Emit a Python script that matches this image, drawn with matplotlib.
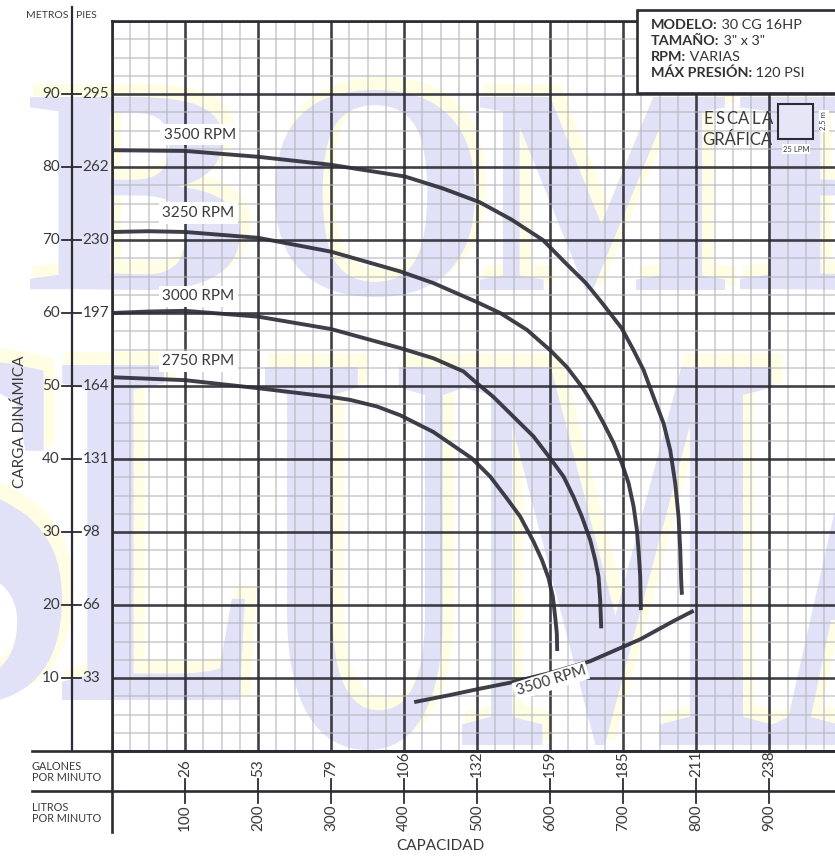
import matplotlib
matplotlib.use('Agg')
import matplotlib.pyplot as plt
import numpy as np
from matplotlib.textpath import TextPath
from matplotlib.font_manager import FontProperties
from matplotlib.patches import PathPatch, Rectangle
from matplotlib.transforms import Affine2D, blended_transform_factory

plt.rcParams['font.family'] = ['Lato', 'DejaVu Sans']

# ---------------- data ----------------
lpm_ticks = [100, 200, 300, 400, 500, 600, 700, 800, 900]
gpm_labels = ['26', '53', '79', '106', '132', '159', '185', '211', '238']
m_ticks = [10, 20, 30, 40, 50, 60, 70, 80, 90]
ft_labels = ['33', '66', '98', '131', '164', '197', '230', '262', '295']

rpm_names = ['3500 RPM', '3250 RPM', '3000 RPM', '2750 RPM']
q_3500 = [0, 100, 200, 300, 401, 452, 503, 547, 590, 621.5, 648.9, 671.7, 698,
          714.2, 727.8, 741.5, 755.2, 764.4, 771.2, 775.8, 778.1, 779.5, 780.4]
h_3500 = [82.3, 82.2, 81.4, 80.3, 78.7, 77.1, 75.2, 72.8, 70.0, 66.8, 64.1,
          61.3, 57.9, 54.9, 52.2, 48.5, 44.9, 41.2, 36.7, 32.1, 27.5, 23.0, 21.4]
q_3250 = [0, 50, 100, 200, 300, 394.5, 440.1, 499.5, 531.5, 568.1, 600, 622.8,
          643.4, 659.4, 673.1, 686.8, 698.2, 707.3, 714.2, 718.7, 721.0, 723.3,
          724.2]
h_3250 = [71.1, 71.2, 71.1, 70.3, 68.4, 65.7, 64.1, 61.5, 60.0, 57.7, 54.9,
          52.6, 49.9, 47.4, 44.9, 42.2, 39.4, 36.7, 33.5, 30.3, 27.5, 23.9, 19.3]
q_3000 = [0, 50, 100, 200, 300, 394.5, 440.1, 481.2, 499.5, 522.3, 549.7,
          577.1, 600, 618.3, 632.0, 643.4, 654.8, 661.6, 666.2, 668.5, 669.9]
h_3000 = [60.0, 60.2, 60.3, 59.5, 57.8, 55.2, 53.8, 52.0, 50.4, 48.5, 45.8,
          43.1, 40.1, 37.6, 34.8, 32.1, 28.9, 26.2, 23.9, 20.7, 16.8]
q_2750 = [0, 100, 200, 300, 326, 362.6, 394.5, 440.1, 492.7, 517.8, 540.7,
          559.0, 577.1, 588.6, 597.7, 603.7, 606.8, 609.1, 609.6]
h_2750 = [51.2, 50.8, 49.7, 48.5, 48.1, 47.2, 46.0, 43.7, 40.1, 37.6, 34.6,
          32.1, 28.7, 26.2, 23.7, 21.1, 18.4, 16.1, 13.7]
curves_q = [q_3500, q_3250, q_3000, q_2750]
curves_h = [h_3500, h_3250, h_3000, h_2750]
label_q = [120, 118, 118, 118]
label_h = [84.4, 73.7, 62.3, 53.4]

low_name = '3500 RPM'
q_low = [416.4, 463, 499.6, 545.2, 600, 654.8, 698.2, 723.3, 741.5, 768.9, 794.1]
h_low = [6.75, 7.67, 8.45, 9.36, 10.7, 12.3, 14.2, 15.3, 16.3, 17.8, 19.1]

info_bold = ['MODELO:', 'TAMAÑO:', 'RPM:', 'MÁX PRESIÓN:']
info_reg = [' 30 CG 16HP', ' 3" x 3"', ' VARIAS', ' 120 PSI']

# ---------------- figure ----------------
W, H = 835, 856
fig = plt.figure(figsize=(W / 100, H / 100), dpi=100)
fig.patch.set_facecolor('white')

DARK = '#2b2b33'
TXT = '#3a3a3a'

# background watermark axes
bg = fig.add_axes([0, 0, 1, 1], zorder=0)
bg.set_xlim(0, W); bg.set_ylim(H, 0); bg.axis('off')

fp = FontProperties(family='Liberation Serif', weight='bold')
LAV = '#e1e2f7'
YEL = '#fffee4'


def letter(ch, x0, x1, ytop, ybot):
    tp = TextPath((0, 0), ch, size=100, prop=fp)
    bb = tp.get_extents()
    sx = (x1 - x0) / bb.width
    sy = (ybot - ytop) / bb.height
    for col, dx, dy, lw, z in [(YEL, 7, -9, 6, 1), (LAV, 0, 0, 0, 2)]:
        tr = (Affine2D().translate(-bb.x0, -bb.y0).scale(sx, -sy)
              .translate(x0 + dx, ybot + dy))
        p = tr.transform_path(tp)
        bg.add_patch(PathPatch(p, fc=col, ec=col if lw else 'none', lw=lw,
                               zorder=z))


for ch, box in [('B', (30, 240, 97, 290)), ('O', (275, 475, 90, 297)),
                ('M', (480, 725, 97, 290)), ('B', (740, 950, 97, 290)),
                ('S', (-130, 62, 360, 705)), ('L', (62, 245, 365, 700)),
                ('U', (265, 465, 367, 750)), ('M', (462, 772, 367, 745)),
                ('A', (772, 1010, 367, 745))]:
    letter(ch, *box)

# main chart axes
ax = fig.add_axes([112 / W, (H - 751) / H, (W - 112) / W, 730 / H], zorder=2)
ax.patch.set_alpha(0)
ax.set_xlim(0, 990)
ax.set_ylim(0, 100)
ax.set_xticks(np.arange(0, 991, 100))
ax.set_xticks(np.arange(0, 991, 25), minor=True)
ax.set_yticks(np.arange(0, 101, 10))
ax.set_yticks(np.arange(0, 101, 2.5), minor=True)
ax.set_axisbelow(True)
ax.grid(which='minor', color='#b4b4bc', lw=1.1, alpha=0.7)
ax.grid(which='major', color=DARK, lw=1.9, alpha=0.9)
ax.tick_params(which='both', length=0, labelbottom=False, labelleft=False)
for k, s in ax.spines.items():
    s.set_color(DARK); s.set_linewidth(1.9)
ax.spines['right'].set_visible(False)

for q, h in zip(curves_q, curves_h):
    ax.plot(q, h, color='#2e2e3a', lw=2.8, alpha=0.92, solid_capstyle='butt',
            solid_joinstyle='round', zorder=3)
for name, q, h in zip(rpm_names, label_q, label_h):
    ax.text(q, h, name, ha='center', va='center', fontsize=11, color=TXT,
            zorder=4, bbox=dict(fc='white', ec='none', pad=2.5))
ax.plot(q_low, h_low, color='#2e2e3a', lw=2.8, alpha=0.92,
        solid_joinstyle='round', zorder=3)
ax.text(601, 9.6, low_name, ha='center', va='center', fontsize=11, color=TXT,
        rotation=17, zorder=4, bbox=dict(fc='white', ec='none', pad=1.5))

# overlay axes in pixel coordinates
ov = fig.add_axes([0, 0, 1, 1], zorder=3)
ov.set_xlim(0, W); ov.set_ylim(H, 0); ov.axis('off')
ov.patch.set_alpha(0)

tr_y = blended_transform_factory(ov.transData, ax.transData)
tr_x = blended_transform_factory(ax.transData, ov.transData)

# left axis
ov.plot([72, 72], [7, 751], color=DARK, lw=1.6)
ov.text(68, 15, 'METROS', ha='right', va='center', fontsize=7.5, color=TXT)
ov.text(76, 15, 'PIES', ha='left', va='center', fontsize=7.5, color=TXT)
for m, f in zip(m_ticks, ft_labels):
    ov.plot([62, 81], [m, m], color=DARK, lw=1.3, transform=tr_y)
    ov.text(60, m, str(m), ha='right', va='center', fontsize=11, color=TXT,
            transform=tr_y)
    ov.text(82.5, m, f, ha='left', va='center', fontsize=11, color=TXT,
            transform=tr_y)
ov.text(20, 422, 'CARGA DINÁMICA', rotation=90, ha='center', va='center',
        fontsize=11, color=TXT)

# bottom axis area
ov.plot([32, W], [751, 751], color=DARK, lw=1.9)
ov.plot([32, W], [791, 791], color=DARK, lw=1.9)
ov.plot([112, 112], [751, 832], color=DARK, lw=1.9)
ov.text(32, 772, 'GALONES\nPOR MINUTO', ha='left', va='center', fontsize=7.8,
        color=TXT, linespacing=1.0)
ov.text(32, 813, 'LITROS\nPOR MINUTO', ha='left', va='center', fontsize=7.8,
        color=TXT, linespacing=1.0)
for q, g in zip(lpm_ticks, gpm_labels):
    ov.plot([q, q], [779, 791], color=DARK, lw=1.3, transform=tr_x)
    ov.plot([q, q], [791, 803], color=DARK, lw=1.3, transform=tr_x)
    ov.text(q, 777, g, rotation=90, ha='center', va='bottom', fontsize=11,
            color=TXT, transform=tr_x)
    ov.text(q, 804, str(q), rotation=90, ha='center', va='top', fontsize=11,
            color=TXT, transform=tr_x)
ov.text(440, 846, 'CAPACIDAD', ha='center', va='center', fontsize=11,
        color=TXT)

# info box
ov.add_patch(Rectangle((637, 10), 220, 83, fc='white', ec=DARK, lw=1.9,
                       zorder=5))
renderer = fig.canvas.get_renderer()
inv = ov.transData.inverted()
for i, (b, r) in enumerate(zip(info_bold, info_reg)):
    y = 25 + 16 * i
    t = ov.text(651, y, b, ha='left', va='center', fontsize=10.4,
                fontweight='bold', color='#333333', zorder=6)
    ext = t.get_window_extent(renderer)
    xr = inv.transform((ext.x1, ext.y0))[0]
    ov.text(xr, y, r, ha='left', va='center', fontsize=10.4, color='#333333',
            zorder=6)

# graphic scale
for j, ch in enumerate('ESCALA'):
    ov.text(708 + j * 12.0, 119, ch, ha='center', va='center', fontsize=12,
            color=TXT, zorder=6)
ov.text(772, 140, 'GRÁFICA', ha='right', va='center', fontsize=12,
        color=TXT, zorder=6)
ov.add_patch(Rectangle((778, 104), 35, 35, fc='#e6e6f6', ec=DARK, lw=1.5,
                       zorder=6))
ov.text(824, 121, '2.5 m', rotation=90, ha='center', va='center',
        fontsize=5.5, color=TXT, zorder=6,
        bbox=dict(fc='white', ec='none', pad=0.8))
ov.text(796, 149, '25 LPM', ha='center', va='center', fontsize=5.5,
        color=TXT, zorder=6, bbox=dict(fc='white', ec='none', pad=0.8))

fig.savefig('out.png', dpi=100)
